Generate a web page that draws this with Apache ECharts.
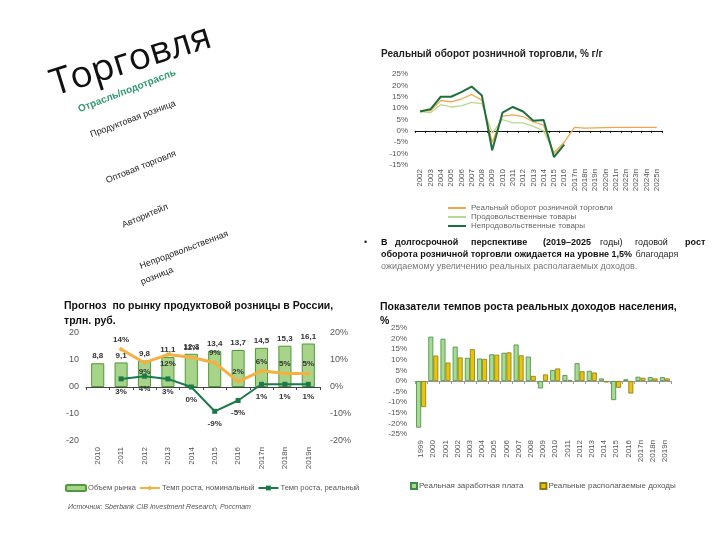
<!DOCTYPE html>
<html><head><meta charset="utf-8">
<script src="https://cdn.jsdelivr.net/npm/echarts@6/dist/echarts.min.js"></script>
<style>html,body{margin:0;padding:0;background:#fff}#c{width:720px;height:540px}</style>
</head><body><div id="c"></div>
<script>
// ---- Data: retail turnover, % y/y ----
const trYears = ['2002','2003','2004','2005','2006','2007','2008','2009','2010','2011','2012','2013','2014','2015','2016','2017п','2018п','2019п','2020п','2021п','2022п','2023п','2024п','2025п'];
const trRetail = [9, 8.8, 13.3, 12.8, 14, 16, 13.5, -5, 6.5, 7, 6.3, 3.9, 2.5, -10, -5, 1.5, 1.2, 1.3, 1.4, 1.5, 1.5, 1.5, 1.5, 1.5];
const trFood = [8.5, 8, 11.5, 10.5, 11, 12.5, 12, -1, 5, 3.5, 3.5, 2, 0, -9.5, -5, null, null, null, null, null, null, null, null, null];
const trNonFood = [8.5, 9.5, 15, 15, 17, 19.5, 15.5, -8.5, 8, 10.5, 8.5, 4.5, 4.8, -11.5, -6, null, null, null, null, null, null, null, null, null];
const trNames = ['Реальный оборот розничной торговли', 'Продовольственные товары', 'Непродовольственные товары'];

// ---- Data: food retail market forecast ----
const blYears = ['2010','2011','2012','2013','2014','2015','2016','2017п','2018п','2019п'];
const blVolume = [8.8, 9.1, 9.8, 11.1, 12.3, 13.4, 13.7, 14.5, 15.3, 16.1];
const blNominal = [null, 14, 9, 12, 11, 9, 2, 6, 5, 5];
const blReal = [null, 3, 4, 3, 0, -9, -5, 1, 1, 1];
const blNames = ['Объем рынка', 'Темп роста, номинальный', 'Темп роста, реальный'];

// ---- Data: real income growth ----
const brYears = ['1999','2000','2001','2002','2003','2004','2005','2006','2007','2008','2009','2010','2011','2012','2013','2014','2015','2016','2017п','2018п','2019п'];
const brWages = [-22, 20.9, 19.9, 16.2, 10.9, 10.6, 12.6, 13.3, 17.2, 11.5, -3.5, 5.2, 2.8, 8.4, 4.8, 1.2, -9.0, 0.8, 2.0, 1.8, 1.8];
const brIncome = [-12.3, 12.0, 8.7, 11.1, 15.0, 10.4, 12.4, 13.5, 12.1, 2.4, 3.1, 5.9, 0.5, 4.6, 4.0, -0.7, -3.2, -5.9, 1.5, 1.2, 1.2];
const brNames = ['Реальная заработная плата', 'Реальные располагаемые доходы'];

const FF = 'Liberation Sans, Arial, sans-serif';
const chart = echarts.init(document.getElementById('c'));

const axLbl = {fontSize: 8, color: '#555', fontFamily: FF};

function cloud(text, x, y, size, rot, color, weight, family) {
  return {type: 'text', x: x, y: y, rotation: rot, silent: true,
    style: {text: text, fontSize: size, fontFamily: family || FF, fill: color || '#222',
      fontWeight: weight || 'normal', textAlign: 'center', textVerticalAlign: 'middle'}};
}
function seg(text, x, y, bold, color) {
  return {type: 'text', x: x, y: y, silent: true,
    style: {text: text, fontSize: 9, fontFamily: FF, fill: color || '#111',
      fontWeight: bold ? 'bold' : 'normal', textVerticalAlign: 'middle'}};
}

const blNomPos = ['top','top','bottom','bottom','top','top','top','top','top','top'];
const blRealPos = ['bottom','bottom','bottom','bottom','bottom','bottom','bottom','bottom','bottom','bottom'];

const option = {
  animation: false,
  textStyle: {fontFamily: FF},
  title: [
    {text: 'Реальный оборот розничной торговли, % г/г', left: 376, top: 44,
      textStyle: {fontSize: 10, fontWeight: 'bold', color: '#222', fontFamily: FF}},
    {text: 'Прогноз  по рынку продуктовой розницы в России,\nтрлн. руб.', left: 59, top: 294,
      textStyle: {fontSize: 10.5, fontWeight: 'bold', color: '#111', lineHeight: 15, fontFamily: FF}},
    {text: 'Показатели темпов роста реальных доходов населения,\n%', left: 375, top: 295,
      textStyle: {fontSize: 10.5, fontWeight: 'bold', color: '#111', lineHeight: 14, fontFamily: FF}}
  ],
  legend: [
    {data: trNames, orient: 'vertical', left: 443, top: 199, itemGap: 1, itemWidth: 18, itemHeight: 2,
      icon: 'rect', textStyle: {fontSize: 8, color: '#666', fontFamily: FF}, selectedMode: false},
    {data: blNames, left: 60, top: 479, itemGap: 3, itemWidth: 20, itemHeight: 6,
      textStyle: {fontSize: 7.6, color: '#555', fontFamily: FF, padding: [0, 0, 0, -3]}, selectedMode: false},
    {data: brNames, left: 405, top: 477, itemGap: 16, itemWidth: 6, itemHeight: 6, icon: 'rect',
      textStyle: {fontSize: 8, color: '#555', fontFamily: FF, padding: [0, 0, 0, -3]}, selectedMode: false}
  ],
  grid: [
    {left: 415, right: 58, top: 74, height: 91},
    {left: 86, right: 400, top: 333, height: 108},
    {left: 415, right: 49, top: 328, height: 106}
  ],
  xAxis: [
    {gridIndex: 0, type: 'category', data: trYears, boundaryGap: true,
      axisLine: {onZero: true, lineStyle: {color: '#111', width: 1}},
      axisTick: {show: true, length: 2, lineStyle: {color: '#111'}},
      axisLabel: Object.assign({rotate: 90, margin: 4, interval: 0}, axLbl)},
    {gridIndex: 1, type: 'category', data: blYears, boundaryGap: true,
      axisLine: {onZero: true, lineStyle: {color: '#444'}},
      axisTick: {show: true, length: 3, lineStyle: {color: '#444'}},
      axisLabel: Object.assign({rotate: 90, margin: 6, interval: 0}, axLbl)},
    {gridIndex: 2, type: 'category', data: brYears, boundaryGap: true,
      axisLine: {onZero: true, lineStyle: {color: '#999'}},
      axisTick: {show: true, length: 3, lineStyle: {color: '#999'}},
      axisLabel: Object.assign({rotate: 90, margin: 6, interval: 0}, axLbl)}
  ],
  yAxis: [
    {gridIndex: 0, type: 'value', min: -15, max: 25, interval: 5,
      splitLine: {show: false}, axisLine: {show: false}, axisTick: {show: false},
      axisLabel: Object.assign({margin: 7, formatter: '{value}%'}, axLbl)},
    {gridIndex: 1, type: 'value', min: -20, max: 20, interval: 10,
      splitLine: {show: false}, axisLine: {show: false}, axisTick: {show: false},
      axisLabel: Object.assign({margin: 7, formatter: v => v === 0 ? '00' : String(v)}, axLbl, {fontSize: 9})},
    {gridIndex: 1, type: 'value', position: 'right', min: -20, max: 20, interval: 10,
      splitLine: {show: false}, axisLine: {show: false}, axisTick: {show: false},
      axisLabel: Object.assign({margin: 10, formatter: '{value}%'}, axLbl, {fontSize: 9})},
    {gridIndex: 2, type: 'value', min: -25, max: 25, interval: 5,
      splitLine: {show: false}, axisLine: {show: false}, axisTick: {show: false},
      axisLabel: Object.assign({margin: 8, formatter: '{value}%'}, axLbl)}
  ],
  series: [
    {name: trNames[0], type: 'line', xAxisIndex: 0, yAxisIndex: 0, data: trRetail, symbol: 'none',
      lineStyle: {color: '#f2a54a', width: 1.3}, itemStyle: {color: '#f2a54a'}, z: 3},
    {name: trNames[1], type: 'line', xAxisIndex: 0, yAxisIndex: 0, data: trFood, symbol: 'none',
      lineStyle: {color: '#b7d98e', width: 1.3}, itemStyle: {color: '#b7d98e'}, z: 2},
    {name: trNames[2], type: 'line', xAxisIndex: 0, yAxisIndex: 0, data: trNonFood, symbol: 'none',
      lineStyle: {color: '#1f6e3e', width: 2}, itemStyle: {color: '#1f6e3e'}, z: 4},

    {name: blNames[0], type: 'bar', xAxisIndex: 1, yAxisIndex: 1, data: blVolume, barWidth: '56%',
      itemStyle: {color: '#a8d48a', borderColor: '#4f9a3a', borderWidth: 1},
      label: {show: true, position: 'top', distance: 3, fontSize: 8, fontWeight: 'bold', color: '#333',
        formatter: p => String(p.value).replace('.', ',')}},
    {name: blNames[1], type: 'line', xAxisIndex: 1, yAxisIndex: 2, symbol: 'diamond', symbolSize: 5,
      data: blNominal.map((v, i) => ({value: v, label: {position: blNomPos[i]}})),
      lineStyle: {color: '#f4b040', width: 3}, itemStyle: {color: '#f4b040'}, z: 4,
      label: {show: true, fontSize: 8, fontWeight: 'bold', color: '#333', distance: 3, formatter: '{c}%'}},
    {name: blNames[2], type: 'line', xAxisIndex: 1, yAxisIndex: 2, symbol: 'rect', symbolSize: 5,
      data: blReal.map((v, i) => ({value: v, label: {position: blRealPos[i]}})),
      lineStyle: {color: '#1b7a4b', width: 2}, itemStyle: {color: '#1b7a4b'}, z: 5,
      label: {show: true, fontSize: 8, fontWeight: 'bold', color: '#333', distance: 6, formatter: '{c}%'}},

    {name: brNames[0], type: 'bar', xAxisIndex: 2, yAxisIndex: 3, data: brWages, barGap: '0%', barCategoryGap: '18%',
      itemStyle: {color: '#a9da92', borderColor: '#3f8d44', borderWidth: 0.8}},
    {name: brNames[1], type: 'bar', xAxisIndex: 2, yAxisIndex: 3, data: brIncome,
      itemStyle: {color: '#e8c40c', borderColor: '#8c7a10', borderWidth: 0.8}}
  ],
  graphic: [
    cloud('Торговля', 131, 61, 37, 0.30, '#111', 'normal', 'Open Sans, Liberation Sans, sans-serif'),
    cloud('Отрасль/подотрасль', 127, 91, 10, 0.37, '#2f9a6f', 'bold'),
    cloud('Продуктовая розница', 133, 119, 9, 0.36, '#222'),
    cloud('Оптовая торговля', 141, 167, 9, 0.38, '#222'),
    cloud('Авторитейл', 145, 216, 9, 0.40, '#222'),
    cloud('Непродовольственная', 184, 250, 9, 0.36, '#222'),
    cloud('розница', 157, 276, 9, 0.38, '#222'),
    {type: 'text', x: 364, y: 243, silent: true, style: {text: '•', fontSize: 9, fill: '#222', fontFamily: FF, textVerticalAlign: 'middle'}},
    seg('В', 381, 243, true),
    seg('долгосрочной', 395, 243, true),
    seg('перспективе', 471, 243, true),
    seg('(2019–2025', 543, 243, true),
    seg('годы)', 600, 243, false),
    seg('годовой', 635, 243, false),
    seg('рост', 685, 243, true),
    {type: 'text', x: 381, y: 255, silent: true,
      style: {text: '{b|оборота розничной торговли ожидается на уровне 1,5%} {n|благодаря}',
        textVerticalAlign: 'middle', rich: {
          b: {fontSize: 9, fontWeight: 'bold', fill: '#111', fontFamily: FF},
          n: {fontSize: 9, fill: '#333', fontFamily: FF}}}},
    seg('ожидаемому увеличению реальных располагаемых доходов.', 381, 267, false, '#777'),
    {type: 'text', x: 68, y: 507, silent: true,
      style: {text: 'Источник: Sberbank CIB Investment Research, Росстат', fontSize: 7, fontStyle: 'italic',
        fill: '#555', fontFamily: FF, textVerticalAlign: 'middle'}}
  ]
};
chart.setOption(option);
</script></body></html>
